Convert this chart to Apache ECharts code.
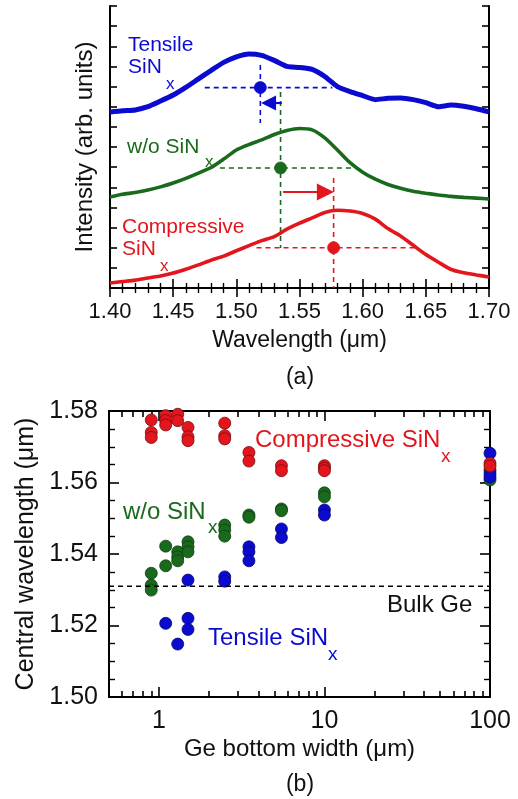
<!DOCTYPE html>
<html>
<head>
<meta charset="utf-8">
<script src="https://cdn.jsdelivr.net/npm/echarts@6/dist/echarts.min.js"></script>
<style>
  html, body { margin: 0; padding: 0; background: #fff; }
  #chart { width: 518px; height: 799px; }
</style>
</head>
<body>
<div id="chart"></div>
<script>
// (a) PL spectra, offset vertically (arb. units)
const wavelength = [1.40, 1.41, 1.42, 1.43, 1.44, 1.45, 1.46, 1.47, 1.48, 1.49, 1.50, 1.51, 1.52, 1.53, 1.54, 1.55,
  1.56, 1.57, 1.58, 1.59, 1.60, 1.61, 1.62, 1.63, 1.64, 1.65, 1.66, 1.67, 1.68, 1.69, 1.70];
const tensileSpec = [8.74, 8.80, 8.84, 9.00, 9.28, 9.58, 9.96, 10.38, 10.80, 11.20, 11.48, 11.62, 11.55, 11.30, 11.00, 10.95,
  10.85, 10.50, 10.00, 9.75, 9.55, 9.35, 9.42, 9.43, 9.35, 9.20, 9.00, 9.08, 9.02, 8.90, 8.74];
const woSpec = [4.52, 4.65, 4.74, 4.86, 5.02, 5.21, 5.44, 5.70, 5.98, 6.40, 6.85, 7.12, 7.35, 7.62, 7.82, 7.92,
  7.85, 7.45, 6.85, 6.22, 5.75, 5.40, 5.14, 4.95, 4.80, 4.70, 4.62, 4.55, 4.50, 4.46, 4.42];
const compSpec = [0.25, 0.32, 0.39, 0.50, 0.60, 0.74, 0.93, 1.15, 1.38, 1.58, 1.85, 2.10, 2.35, 2.55, 2.92, 3.22,
  3.48, 3.75, 3.86, 3.82, 3.70, 3.42, 2.95, 2.58, 2.12, 1.66, 1.28, 0.92, 0.76, 0.65, 0.55];

// peak markers [wavelength, level] and guide extents
const tensilePeak = [1.519, 9.95];
const woPeak = [1.535, 5.96];
const compPeak = [1.577, 2.0];
const tensileGuideX = [1.475, 1.576];
const tensileGuideY = [11.07, 8.19];
const woGuideX = [1.487, 1.591];
const woGuideY = [9.73, 1.99];
const compGuideX = [1.516, 1.643];
const compGuideY = [5.46, 0];
const blueArrow = [[1.536, 9.18], [1.5255, 9.18]];
const redArrow = [[1.537, 4.77], [1.5705, 4.77]];

// (b) central wavelength vs Ge bottom width
const compWidth = [0.9, 0.9, 0.9, 1.1, 1.1, 1.1, 1.3, 1.3, 1.5, 1.5, 1.5, 2.5, 2.5, 2.5, 3.5, 3.5, 5.5, 5.5, 10, 10, 10, 100, 100];
const compCenter = [1.5775, 1.5740, 1.5726, 1.5787, 1.5773, 1.5761, 1.5791, 1.5773, 1.5754, 1.5728, 1.5717, 1.5766, 1.5731, 1.5722,
  1.5684, 1.5660, 1.5647, 1.5633, 1.5647, 1.5640, 1.5633, 1.5654, 1.5646];
const woWidth = [0.9, 0.9, 0.9, 1.1, 1.1, 1.3, 1.3, 1.3, 1.5, 1.5, 1.5, 2.5, 2.5, 2.5, 3.5, 3.5, 5.5, 5.5, 10, 10, 100, 100];
const woCenter = [1.5346, 1.5313, 1.5299, 1.5422, 1.5367, 1.5406, 1.5392, 1.5381, 1.5434, 1.5420, 1.5406, 1.5481, 1.5467, 1.5450,
  1.5509, 1.5503, 1.5526, 1.5521, 1.5571, 1.5560, 1.5635, 1.5607];
const tensileWidth = [1.1, 1.3, 1.5, 1.5, 1.5, 2.5, 2.5, 3.5, 3.5, 3.5, 5.5, 5.5, 10, 10, 100, 100, 100];
const tensileCenter = [1.5206, 1.5148, 1.5220, 1.5189, 1.5327, 1.5336, 1.5324, 1.5420, 1.5406, 1.5381, 1.5470, 1.5446,
  1.5523, 1.5509, 1.5682, 1.5625, 1.5615];
const bulkGe = 1.531;

const widthLabels = [1, 10, 100];
const widthMinor = [0.6, 0.7, 0.8, 0.9, 2, 3, 4, 5, 6, 7, 8, 9, 20, 30, 40, 50, 60, 70, 80, 90];

const BLUE = '#0b0bd0';
const GREEN = '#196a1c';
const RED = '#e2161c';
const FONT = 'Liberation Sans, Arial, sans-serif';

const zip = (xs, ys) => xs.map((x, i) => [x, ys[i]]);

function specSeries(data, color, width) {
  return {
    type: 'line', xAxisIndex: 0, yAxisIndex: 0, data: data,
    symbol: 'none', animation: false, silent: true, smooth: 0.2,
    lineStyle: { color: color, width: width }
  };
}

function guideSeries(data, color) {
  return {
    type: 'line', xAxisIndex: 0, yAxisIndex: 0, data: data,
    symbol: 'none', animation: false, silent: true,
    lineStyle: { color: color, width: 1.6, type: [5, 4] }
  };
}

function arrowSeries(pts, color, size) {
  return {
    type: 'line', xAxisIndex: 0, yAxisIndex: 0, data: [], animation: false, silent: true,
    markLine: {
      silent: true, animation: false,
      symbol: ['none', 'triangle'], symbolSize: size,
      label: { show: false },
      lineStyle: { color: color, width: 2.2, type: 'solid' },
      data: [[{ coord: pts[0] }, { coord: pts[1] }]]
    }
  };
}

function dotSeries(xs, ys, color, border, idx) {
  return {
    type: 'scatter', xAxisIndex: idx, yAxisIndex: idx, data: zip(xs, ys),
    symbolSize: 12, animation: false, silent: true,
    itemStyle: { color: color, borderColor: border, borderWidth: 0.8, opacity: 1 }
  };
}

const tick = (len) => ({ show: true, inside: true, length: len, lineStyle: { color: '#000', width: 1.6 } });
const axisLine = { show: true, lineStyle: { color: '#000', width: 2 } };

function topX(position, showLabel) {
  return {
    type: 'value', gridIndex: 0, position: position, min: 1.4, max: 1.7, interval: 0.05,
    axisLine: axisLine, axisTick: tick(9),
    minorTick: { show: true, splitNumber: 5, length: 5, lineStyle: { color: '#000', width: 1.4 } },
    splitLine: { show: false }, minorSplitLine: { show: false },
    axisLabel: { show: showLabel, fontSize: 22, fontFamily: FONT, color: '#111', margin: 13,
      formatter: (v) => v.toFixed(2) },
    name: showLabel ? 'Wavelength (μm)' : '', nameLocation: 'middle', nameGap: 41,
    nameTextStyle: { fontSize: 23, fontFamily: FONT, color: '#111' }
  };
}

function topY(position, showName) {
  return {
    type: 'value', gridIndex: 0, position: position, min: 0, max: 14, interval: 1,
    axisLine: axisLine, axisTick: tick(7),
    splitLine: { show: false }, axisLabel: { show: false },
    name: showName ? 'Intensity (arb. units)' : '', nameLocation: 'middle', nameGap: 13,
    nameTextStyle: { fontSize: 24, fontFamily: FONT, color: '#111' }
  };
}

function bottomX(position, major, showLabel) {
  return {
    type: 'log', logBase: 10, gridIndex: 1, position: position, min: 0.5, max: 100,
    axisLine: axisLine,
    axisTick: Object.assign(tick(major ? 10 : 6), { customValues: major ? widthLabels : widthMinor }),
    splitLine: { show: false }, minorTick: { show: false },
    axisLabel: { show: showLabel, customValues: widthLabels, fontSize: 25, fontFamily: FONT, color: '#111', margin: 12 },
    name: showLabel ? 'Ge bottom width (μm)' : '', nameLocation: 'middle', nameGap: 40,
    nameTextStyle: { fontSize: 24, fontFamily: FONT, color: '#111' }
  };
}

function bottomY(position, showLabel) {
  return {
    type: 'value', gridIndex: 1, position: position, min: 1.5, max: 1.58, interval: 0.02,
    axisLine: axisLine, axisTick: tick(10),
    minorTick: { show: true, splitNumber: 4, length: 6, lineStyle: { color: '#000', width: 1.4 } },
    splitLine: { show: false }, minorSplitLine: { show: false },
    axisLabel: { show: showLabel, fontSize: 25, fontFamily: FONT, color: '#111', margin: 11,
      formatter: (v) => v.toFixed(2) },
    name: showLabel ? 'Central wavelength (μm)' : '', nameLocation: 'middle', nameGap: 68,
    nameTextStyle: { fontSize: 25, fontFamily: FONT, color: '#111' }
  };
}

function txt(text, x, y, color, size, align) {
  return {
    type: 'text', x: x, y: y, silent: true,
    style: { text: text, fill: color, font: size + 'px ' + FONT, align: align || 'left', verticalAlign: 'middle' }
  };
}

const option = {
  backgroundColor: '#fff',
  animation: false,
  grid: [
    { left: 110, right: 29, top: 6, height: 282 },
    { left: 109, right: 28, top: 411, height: 286 }
  ],
  xAxis: [
    topX('bottom', true), topX('top', false),
    bottomX('bottom', true, true), bottomX('bottom', false, false),
    bottomX('top', true, false), bottomX('top', false, false)
  ],
  yAxis: [
    topY('left', true), topY('right', false),
    bottomY('left', true), bottomY('right', false)
  ],
  series: [
    // (a)
    guideSeries([[tensileGuideX[0], tensilePeak[1]], [tensileGuideX[1], tensilePeak[1]]], BLUE),
    guideSeries([[tensilePeak[0], tensileGuideY[0]], [tensilePeak[0], tensileGuideY[1]]], BLUE),
    guideSeries([[woGuideX[0], woPeak[1]], [woGuideX[1], woPeak[1]]], GREEN),
    guideSeries([[woPeak[0], woGuideY[0]], [woPeak[0], woGuideY[1]]], GREEN),
    guideSeries([[compGuideX[0], compPeak[1]], [compGuideX[1], compPeak[1]]], RED),
    guideSeries([[compPeak[0], compGuideY[0]], [compPeak[0], compGuideY[1]]], RED),
    specSeries(zip(wavelength, tensileSpec), BLUE, 5),
    specSeries(zip(wavelength, woSpec), GREEN, 3.6),
    specSeries(zip(wavelength, compSpec), RED, 3.6),
    dotSeries([tensilePeak[0]], [tensilePeak[1]], BLUE, BLUE, 0),
    dotSeries([woPeak[0]], [woPeak[1]], GREEN, GREEN, 0),
    dotSeries([compPeak[0]], [compPeak[1]], RED, RED, 0),
    arrowSeries(blueArrow, BLUE, [15, 15]),
    arrowSeries(redArrow, RED, [17, 17]),
    // (b)
    {
      type: 'line', xAxisIndex: 2, yAxisIndex: 2, data: [[0.5, bulkGe], [100, bulkGe]],
      symbol: 'none', animation: false, silent: true,
      lineStyle: { color: '#000', width: 1.6, type: [5, 4] }
    },
    dotSeries(woWidth, woCenter, GREEN, '#0d3d0f', 2),
    dotSeries(tensileWidth, tensileCenter, BLUE, '#06066e', 2),
    dotSeries(compWidth, compCenter, RED, '#7a0a0c', 2)
  ],
  graphic: [
    txt('Tensile', 128, 45, BLUE, 21),
    txt('SiN', 128, 67, BLUE, 21),
    txt('x', 166, 84, BLUE, 17),
    txt('w/o SiN', 127, 147, GREEN, 21),
    txt('x', 205, 162, GREEN, 17),
    txt('Compressive', 122, 227, RED, 21),
    txt('SiN', 122, 249, RED, 21),
    txt('x', 160, 266, RED, 17),
    txt('(a)', 300, 378, '#111', 23, 'center'),
    txt('Compressive SiN', 255, 440, RED, 24),
    txt('x', 441, 457, RED, 19),
    txt('w/o SiN', 123, 512, GREEN, 24),
    txt('x', 208, 528, GREEN, 19),
    txt('Tensile SiN', 208, 638, BLUE, 24),
    txt('x', 328, 655, BLUE, 19),
    txt('Bulk Ge', 387, 605, '#111', 24),
    txt('(b)', 300, 785, '#111', 23, 'center')
  ]
};

const myChart = echarts.init(document.getElementById('chart'), null, { renderer: 'canvas' });
myChart.setOption(option);
</script>
</body>
</html>
